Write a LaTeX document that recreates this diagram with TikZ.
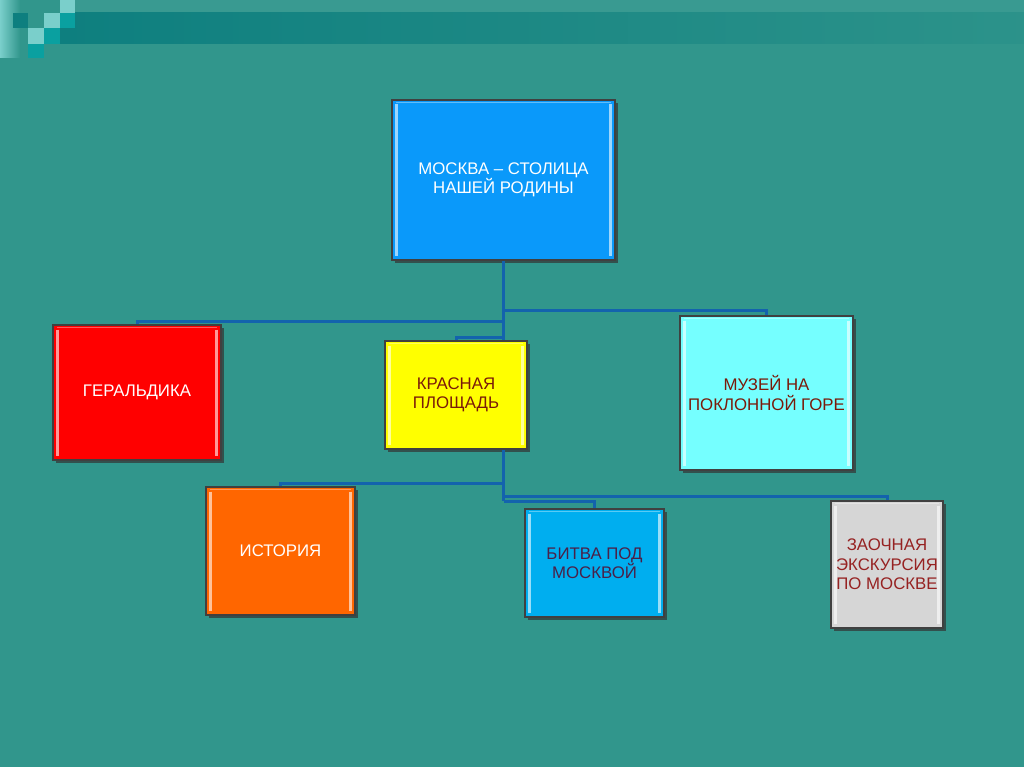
\documentclass[tikz,border=0pt]{standalone}
\usepackage{fontspec}
\setmainfont{Liberation Sans}
\usetikzlibrary{shadows}
\definecolor{slidebg}{HTML}{31968C}
\definecolor{bandteal}{HTML}{0E7F7F}
\definecolor{sqlight}{HTML}{7ACFCB}
\definecolor{sqmid}{HTML}{0AA0A0}
\definecolor{linkblue}{HTML}{1363AD}
\definecolor{moskblue}{HTML}{0A99FA}
\definecolor{heraldred}{HTML}{FF0000}
\definecolor{squareyellow}{HTML}{FFFF00}
\definecolor{museumcyan}{HTML}{75FFFF}
\definecolor{historyorange}{HTML}{FF6600}
\definecolor{battleblue}{HTML}{00AEEF}
\definecolor{tourgray}{HTML}{D6D6D6}
\definecolor{brownred}{HTML}{7A1A0A}
\definecolor{battleink}{HTML}{4A2048}
\definecolor{tourred}{HTML}{962222}

\tikzset{
  bevel/.style={path picture={
      \draw[white,opacity=.6,line width=2.5pt]
        ([shift={(4.5pt,-4.5pt)}]path picture bounding box.north west) --
        ([shift={(4.5pt,4.5pt)}]path picture bounding box.south west);
      \draw[white,opacity=.6,line width=2.5pt]
        ([shift={(-4.5pt,-4.5pt)}]path picture bounding box.north east) --
        ([shift={(-4.5pt,4.5pt)}]path picture bounding box.south east);
      \draw[white,opacity=.35,line width=1.5pt]
        ([shift={(4pt,-2.5pt)}]path picture bounding box.north west) --
        ([shift={(-4pt,-2.5pt)}]path picture bounding box.north east);
  }},
  box/.style={draw=black!75, line width=1.2pt, rectangle, inner sep=0pt,
    align=center, font=\fontsize{16.8}{19.5}\selectfont, bevel,
    drop shadow={shadow xshift=3pt,shadow yshift=-3pt,opacity=.7,fill=black!80}},
  link/.style={draw=linkblue, line width=3pt}
}

\begin{document}
\begin{tikzpicture}[x=1pt,y=-1pt]
  \useasboundingbox (0,0) rectangle (1024,767);
  \fill[slidebg] (0,0) rectangle (1024,767);
  \fill[slidebg!96!white] (60,0) rectangle (1024,13);
  \shade[left color=bandteal, right color=slidebg!85!bandteal] (60,13) rectangle (1024,44);
  \shade[left color=sqlight, right color=slidebg] (0,0) rectangle (20,58);
  \fill[sqlight] (60,0) rectangle (75,13);
  \fill[bandteal] (13,13) rectangle (28,28);
  \fill[sqlight] (44,13) rectangle (60,28);
  \fill[sqmid] (60,13) rectangle (75,28);
  \fill[sqlight] (28,28) rectangle (44,44);
  \fill[sqmid] (44,28) rectangle (60,44);
  \fill[sqmid] (28,44) rectangle (44,58);

  \node[box, fill=moskblue, text=white, minimum width=223pt, minimum height=160pt]
    (moscow) at (503.5,180) {МОСКВА – СТОЛИЦА\\НАШЕЙ РОДИНЫ};
  \node[box, fill=heraldred, text=white, minimum width=168pt, minimum height=135pt]
    (heraldry) at (137,392.5) {ГЕРАЛЬДИКА};
  \node[box, fill=squareyellow, text=brownred, minimum width=142pt, minimum height=108pt]
    (square) at (456,395) {КРАСНАЯ\\ПЛОЩАДЬ};
  \node[box, fill=museumcyan, text=brownred, minimum width=173pt, minimum height=154pt]
    (museum) at (766.5,393) {МУЗЕЙ НА\\ПОКЛОННОЙ ГОРЕ};
  \node[box, fill=historyorange, text=white, minimum width=149pt, minimum height=128pt]
    (history) at (280.5,551) {ИСТОРИЯ};
  \node[box, fill=battleblue, text=battleink, minimum width=139pt, minimum height=108pt]
    (battle) at (594.5,563) {БИТВА ПОД\\МОСКВОЙ};
  \node[box, fill=tourgray, text=tourred, minimum width=112pt, minimum height=127pt]
    (tour) at (887,564.5) {ЗАОЧНАЯ\\ЭКСКУРСИЯ\\ПО МОСКВЕ};

  \coordinate (hub) at (square.south -| moscow.south);
  \draw[link] (moscow.south) -- (moscow.south |- square.north);
  \draw[link] (moscow.south |- 0,310) -| (museum.north);
  \draw[link] (moscow.south |- 0,321) -| (heraldry.north);
  \draw[link] (moscow.south |- 0,337) -| (square.north);
  \draw[link] (hub) -- (hub |- 0,501);
  \draw[link] (hub |- 0,483) -| (history.north);
  \draw[link] (hub |- 0,496) -| (tour.north);
  \draw[link] (hub |- 0,501) -| (battle.north);
\end{tikzpicture}
\end{document}
